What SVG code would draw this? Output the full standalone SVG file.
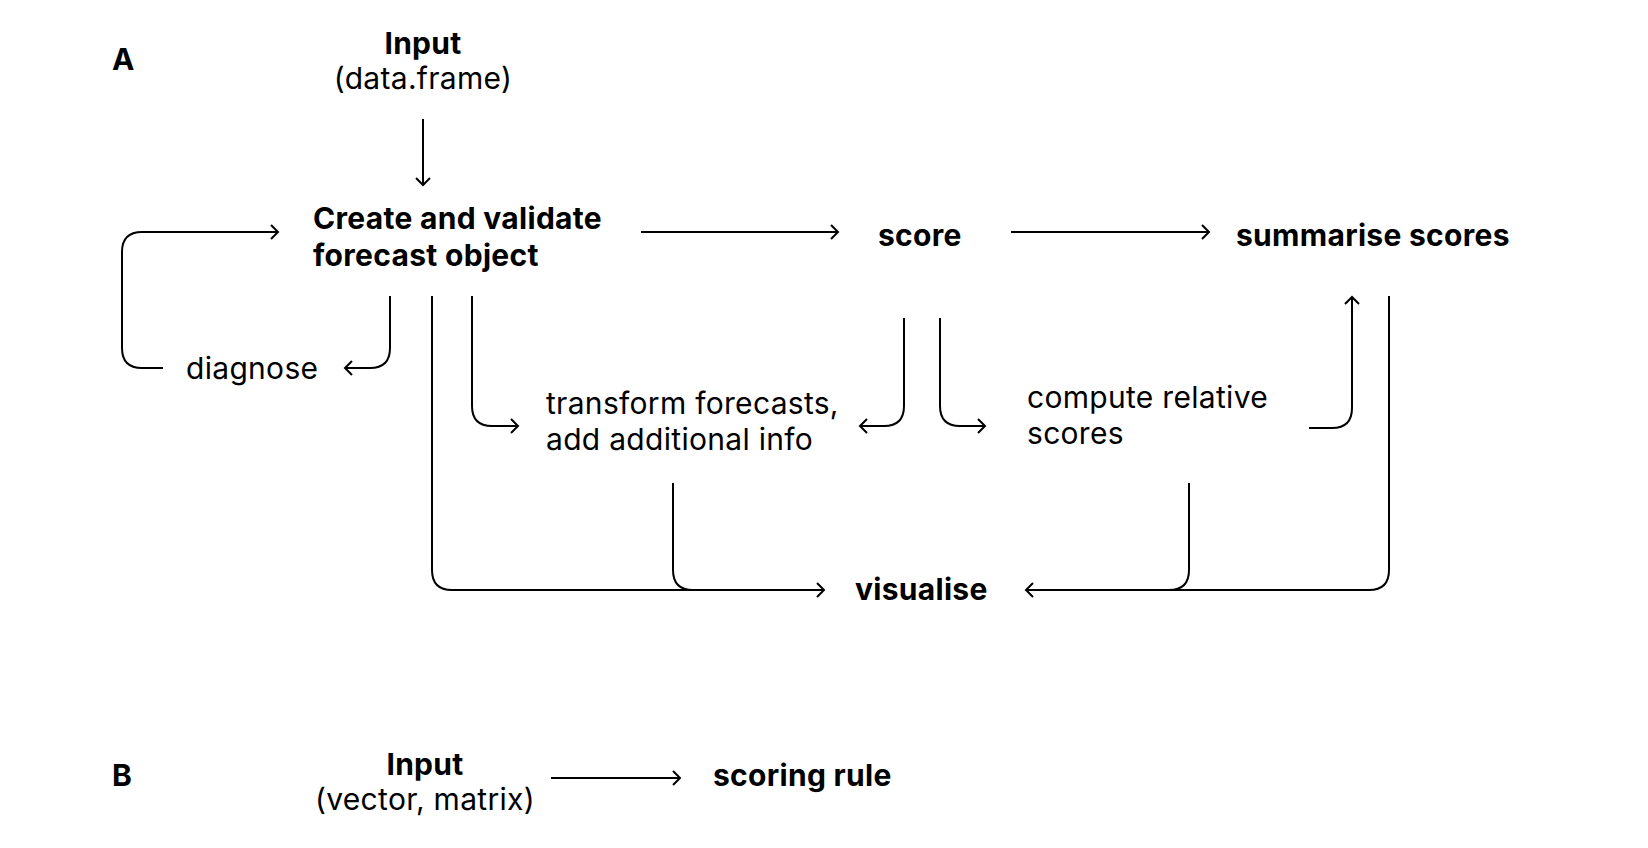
<svg xmlns="http://www.w3.org/2000/svg" width="1648" height="848" viewBox="0 0 1648 848">
<style>
text{font-family:Inter,"Liberation Sans",sans-serif;fill:#000;font-size:30px;letter-spacing:0.3px}
.b{font-weight:700}
.c{text-anchor:middle}
.e{fill:none;stroke:#000;stroke-width:2}
</style>
<defs>
<marker id="ah" markerUnits="userSpaceOnUse" markerWidth="20" markerHeight="20" refX="10" refY="10" orient="auto">
<path d="M3,3 L10,10 L3,17" fill="none" stroke="#000" stroke-width="2"/>
</marker>
</defs>
<rect width="1648" height="848" fill="#fff"/>
<g id="labelA"><text class="b" x="112" y="70">A</text></g>
<g id="labelB"><text class="b" x="112" y="786">B</text></g>
<g id="inputA"><text class="b c" x="423" y="54">Input</text><text class="c" x="423" y="89">(data.frame)</text></g>
<g id="create"><text class="b" x="313" y="229">Create and validate</text><text class="b" x="313" y="266">forecast object</text></g>
<g id="score"><text class="b" x="878" y="246">score</text></g>
<g id="summarise"><text class="b" x="1236" y="246">summarise scores</text></g>
<g id="diagnose"><text x="186" y="379">diagnose</text></g>
<g id="transform"><text x="546" y="414">transform forecasts,</text><text x="546" y="450">add additional info</text></g>
<g id="relative"><text x="1027" y="408">compute relative</text><text x="1027" y="444">scores</text></g>
<g id="visualise"><text class="b" x="855" y="600">visualise</text></g>
<g id="inputB"><text class="b c" x="425" y="775">Input</text><text class="c" x="425" y="810">(vector, matrix)</text></g>
<g id="scoringrule"><text class="b" x="713" y="786">scoring rule</text></g>
<g id="connectors" class="e">
<path class="e" d="M423,119 V185" marker-end="url(#ah)"/>
<path class="e" d="M641,232 H838" marker-end="url(#ah)"/>
<path class="e" d="M1011,232 H1209" marker-end="url(#ah)"/>
<path class="e" d="M163,368 H142 Q122,368 122,348 V252 Q122,232 142,232 H278" marker-end="url(#ah)"/>
<path class="e" d="M390,296 V348 Q390,368 370,368 H345" marker-end="url(#ah)"/>
<path class="e" d="M432,296 V570 Q432,590 452,590 H824" marker-end="url(#ah)"/>
<path class="e" d="M472,296 V406 Q472,426 492,426 H518" marker-end="url(#ah)"/>
<path class="e" d="M673,483 V570 Q673,590 693,590"/>
<path class="e" d="M904,318 V406 Q904,426 884,426 H860" marker-end="url(#ah)"/>
<path class="e" d="M940,318 V406 Q940,426 960,426 H985" marker-end="url(#ah)"/>
<path class="e" d="M1309,428 H1332 Q1352,428 1352,408 V297" marker-end="url(#ah)"/>
<path class="e" d="M1389,296 V570 Q1389,590 1369,590 H1026" marker-end="url(#ah)"/>
<path class="e" d="M1189,483 V570 Q1189,590 1169,590"/>
<path class="e" d="M551,778 H680" marker-end="url(#ah)"/>
</g>
</svg>
